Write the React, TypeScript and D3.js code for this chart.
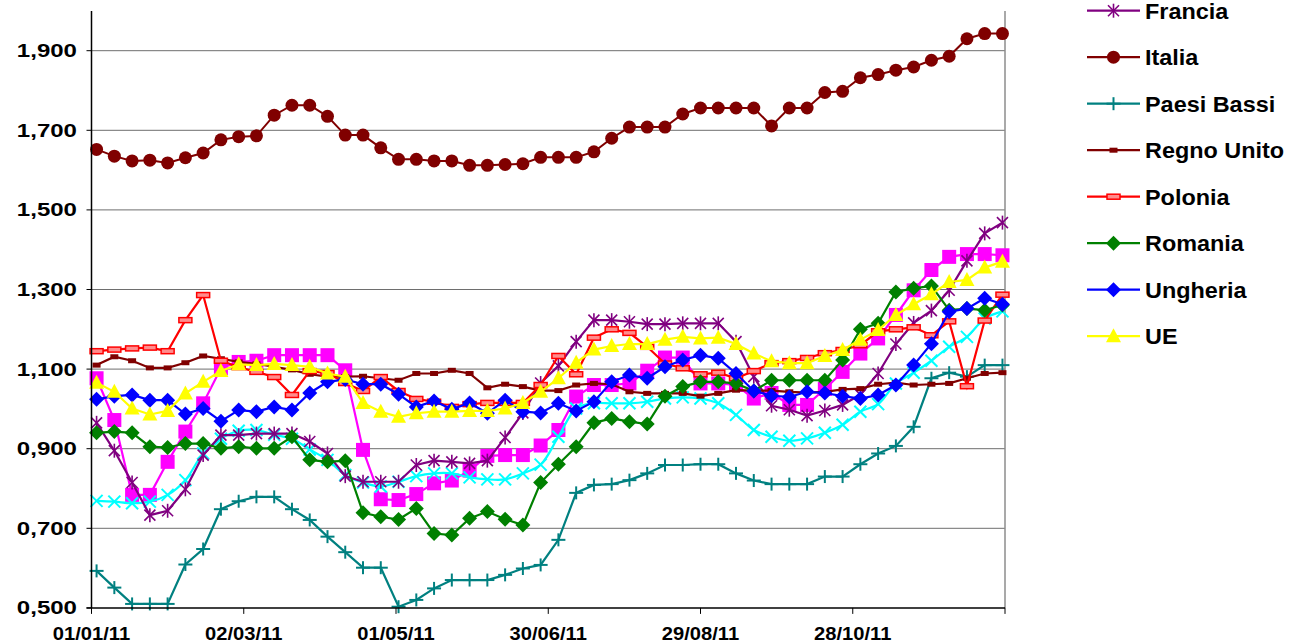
import React from "react";
import * as d3 from "d3";

const W = 1290;
const H = 643;

// weekly observation dates (first Monday of 2011, 52 weeks)
const dates: Date[] = d3.timeDay.range(new Date(2011, 0, 3), new Date(2011, 11, 27), 7);

const xTickDates = ["2011-01-01", "2011-03-02", "2011-05-01", "2011-06-30", "2011-08-29", "2011-10-28", "2011-12-27"];
const xTickLabels = ["01/01/11", "02/03/11", "01/05/11", "30/06/11", "29/08/11", "28/10/11", ""];
const yTicks = [0.5, 0.7, 0.9, 1.1, 1.3, 1.5, 1.7, 1.9];
const yTickLabels = ["0,500", "0,700", "0,900", "1,100", "1,300", "1,500", "1,700", "1,900"];

const francia = [0.965, 0.895, 0.815, 0.733, 0.744, 0.798, 0.884, 0.934, 0.934, 0.938, 0.938, 0.938, 0.918, 0.888, 0.831, 0.817, 0.817, 0.817, 0.859, 0.870, 0.867, 0.863, 0.870, 0.928, 0.990, 1.065, 1.108, 1.169, 1.223, 1.223, 1.219, 1.213, 1.213, 1.215, 1.215, 1.215, 1.169, 1.081, 1.008, 0.998, 0.983, 0.996, 1.010, 1.036, 1.089, 1.163, 1.216, 1.247, 1.298, 1.372, 1.441, 1.468];
const italia = [1.652, 1.635, 1.623, 1.625, 1.618, 1.631, 1.643, 1.676, 1.684, 1.686, 1.738, 1.763, 1.763, 1.735, 1.688, 1.688, 1.656, 1.627, 1.627, 1.623, 1.623, 1.612, 1.612, 1.614, 1.616, 1.632, 1.632, 1.632, 1.646, 1.680, 1.708, 1.708, 1.708, 1.741, 1.756, 1.756, 1.756, 1.756, 1.711, 1.756, 1.756, 1.795, 1.798, 1.832, 1.840, 1.851, 1.859, 1.876, 1.886, 1.930, 1.943, 1.943];
const paesiBassi = [0.593, 0.551, 0.510, 0.510, 0.510, 0.609, 0.648, 0.748, 0.768, 0.779, 0.779, 0.748, 0.721, 0.679, 0.640, 0.601, 0.601, 0.503, 0.520, 0.549, 0.570, 0.570, 0.570, 0.583, 0.599, 0.608, 0.671, 0.789, 0.809, 0.811, 0.821, 0.838, 0.859, 0.859, 0.861, 0.861, 0.838, 0.820, 0.811, 0.811, 0.811, 0.830, 0.830, 0.861, 0.888, 0.907, 0.955, 1.077, 1.091, 1.081, 1.110, 1.110];
const regnoUnito = [1.110, 1.131, 1.121, 1.103, 1.103, 1.116, 1.133, 1.126, 1.118, 1.113, 1.106, 1.098, 1.087, 1.081, 1.081, 1.082, 1.077, 1.072, 1.089, 1.089, 1.097, 1.089, 1.053, 1.062, 1.056, 1.046, 1.046, 1.060, 1.064, 1.062, 1.043, 1.039, 1.039, 1.039, 1.032, 1.039, 1.047, 1.046, 1.046, 1.043, 1.041, 1.043, 1.049, 1.051, 1.062, 1.066, 1.060, 1.062, 1.064, 1.077, 1.089, 1.091];
const polonia = [1.145, 1.149, 1.152, 1.154, 1.145, 1.223, 1.286, 1.121, 1.105, 1.093, 1.080, 1.035, 1.095, 1.090, 1.065, 1.045, 1.080, 1.045, 1.025, 1.018, 1.005, 1.012, 1.015, 1.015, 1.015, 1.060, 1.133, 1.087, 1.179, 1.200, 1.191, 1.156, 1.114, 1.102, 1.087, 1.091, 1.077, 1.095, 1.115, 1.120, 1.128, 1.140, 1.148, 1.160, 1.195, 1.200, 1.205, 1.185, 1.220, 1.057, 1.222, 1.287];
const romania = [0.940, 0.943, 0.940, 0.905, 0.903, 0.913, 0.913, 0.901, 0.905, 0.901, 0.901, 0.930, 0.872, 0.867, 0.870, 0.739, 0.729, 0.722, 0.750, 0.687, 0.683, 0.725, 0.742, 0.723, 0.708, 0.815, 0.861, 0.905, 0.965, 0.976, 0.968, 0.962, 1.032, 1.056, 1.068, 1.068, 1.064, 1.045, 1.072, 1.072, 1.072, 1.072, 1.123, 1.200, 1.215, 1.294, 1.303, 1.309, 1.248, 1.252, 1.248, 1.261];
const ungheria = [1.024, 1.032, 1.035, 1.022, 1.022, 0.987, 1.001, 0.969, 0.997, 0.993, 1.005, 0.997, 1.040, 1.068, 1.074, 1.062, 1.062, 1.037, 1.005, 1.020, 0.999, 1.015, 0.989, 1.022, 0.993, 0.990, 1.014, 0.995, 1.018, 1.068, 1.085, 1.077, 1.106, 1.123, 1.135, 1.127, 1.089, 1.045, 1.033, 1.030, 1.043, 1.040, 1.032, 1.026, 1.035, 1.060, 1.110, 1.164, 1.244, 1.252, 1.278, 1.263];
const ue = [1.066, 1.043, 1.001, 0.986, 0.995, 1.039, 1.068, 1.095, 1.112, 1.110, 1.113, 1.110, 1.106, 1.089, 1.081, 1.015, 0.993, 0.980, 0.989, 0.993, 0.993, 0.995, 0.995, 1.001, 1.015, 1.043, 1.077, 1.116, 1.149, 1.158, 1.163, 1.163, 1.174, 1.181, 1.177, 1.179, 1.163, 1.139, 1.120, 1.115, 1.115, 1.133, 1.148, 1.174, 1.198, 1.236, 1.263, 1.288, 1.319, 1.324, 1.355, 1.370];
const magentaSeries = [1.077, 0.972, 0.784, 0.784, 0.867, 0.943, 1.014, 1.102, 1.118, 1.121, 1.135, 1.135, 1.135, 1.135, 1.097, 0.897, 0.773, 0.771, 0.786, 0.813, 0.820, 0.845, 0.882, 0.884, 0.884, 0.908, 0.947, 1.031, 1.060, 1.060, 1.064, 1.096, 1.129, 1.129, 1.064, 1.064, 1.060, 1.026, 1.040, 1.010, 1.010, 1.050, 1.093, 1.139, 1.177, 1.236, 1.298, 1.349, 1.382, 1.389, 1.389, 1.386];
const cyanSeries = [0.769, 0.767, 0.763, 0.767, 0.784, 0.821, 0.888, 0.925, 0.945, 0.947, 0.935, 0.925, 0.898, 0.872, 0.834, 0.815, 0.805, 0.817, 0.831, 0.838, 0.838, 0.828, 0.823, 0.823, 0.838, 0.860, 0.930, 1.001, 1.014, 1.014, 1.014, 1.018, 1.026, 1.029, 1.026, 1.014, 0.985, 0.947, 0.930, 0.920, 0.926, 0.940, 0.960, 0.993, 1.012, 1.064, 1.091, 1.121, 1.156, 1.181, 1.227, 1.245];

type Marker = "star" | "circle" | "plus" | "dash" | "bar" | "diamond" | "triangle" | "square" | "x";
interface Series { name: string; color: string; marker: Marker; values: number[]; legend: boolean; smooth?: boolean; }

const series: Series[] = [
  { name: "", color: "#FF00FF", marker: "square", values: magentaSeries, legend: false },
  { name: "", color: "#00FFFF", marker: "x", values: cyanSeries, legend: false, smooth: true },
  { name: "Francia", color: "#800080", marker: "star", values: francia, legend: true },
  { name: "Italia", color: "#800000", marker: "circle", values: italia, legend: true },
  { name: "Paesi Bassi", color: "#008080", marker: "plus", values: paesiBassi, legend: true },
  { name: "Regno Unito", color: "#800000", marker: "dash", values: regnoUnito, legend: true },
  { name: "Polonia", color: "#FF0000", marker: "bar", values: polonia, legend: true },
  { name: "Romania", color: "#008000", marker: "diamond", values: romania, legend: true },
  { name: "Ungheria", color: "#0000FF", marker: "diamond", values: ungheria, legend: true },
  { name: "UE", color: "#FFFF00", marker: "triangle", values: ue, legend: true },
];

const legendOrder = ["Francia", "Italia", "Paesi Bassi", "Regno Unito", "Polonia", "Romania", "Ungheria", "UE"];

const PLOT = { left: 91.5, right: 1005, top: 10.9, bottom: 607.9 };
const FONT = "'Liberation Sans', Arial, Helvetica, sans-serif";

const x = d3.scaleTime().domain([new Date(2011, 0, 1), new Date(2011, 11, 27)]).range([PLOT.left, PLOT.right]);
const y = d3.scaleLinear().domain([0.5, 2.0]).range([PLOT.bottom, PLOT.top]);

function MarkerShape({ type, color, cx, cy }: { type: Marker; color: string; cx: number; cy: number }) {
  const t = `translate(${cx},${cy})`;
  switch (type) {
    case "circle":
      return <circle cx={cx} cy={cy} r={6.5} fill={color} />;
    case "square":
      return <rect transform={t} x={-7} y={-7} width={14} height={14} fill={color} />;
    case "diamond":
      return <path transform={t} d="M0,-7.5L7.5,0L0,7.5L-7.5,0Z" fill={color} />;
    case "triangle":
      return <path transform={t} d="M0,-8L7.5,6L-7.5,6Z" fill={color} />;
    case "star":
      return (
        <g transform={t} stroke={color} strokeWidth={1.6}>
          <line x1={-5.5} y1={-5.5} x2={5.5} y2={5.5} />
          <line x1={-5.5} y1={5.5} x2={5.5} y2={-5.5} />
          <line x1={0} y1={-7} x2={0} y2={7} />
        </g>
      );
    case "plus":
      return (
        <g transform={t} stroke={color} strokeWidth={2}>
          <line x1={-7} y1={0} x2={7} y2={0} />
          <line x1={0} y1={-6.5} x2={0} y2={6.5} />
        </g>
      );
    case "x":
      return (
        <g transform={t} stroke={color} strokeWidth={2}>
          <line x1={-6} y1={-6} x2={6} y2={6} />
          <line x1={-6} y1={6} x2={6} y2={-6} />
        </g>
      );
    case "dash":
      return <rect transform={t} x={-4} y={-2.5} width={8} height={5} fill={color} />;
    case "bar":
      return <rect transform={t} x={-6.5} y={-2.5} width={13} height={5} fill="#ff8c8c" stroke={color} strokeWidth={1.5} />;
  }
  return null;
}

function StretchText({ x0, y0, sx, anchor, size, children }: { x0: number; y0: number; sx: number; anchor: string; size: number; children: React.ReactNode }) {
  return (
    <text transform={`translate(${x0},${y0}) scale(${sx},1)`} textAnchor={anchor} fontSize={size} fontWeight="bold" fill="#000">
      {children}
    </text>
  );
}

export default function App() {
  const lineGen = (smooth: boolean) =>
    d3
      .line<number>()
      .x((_, i) => x(dates[i]))
      .y((v) => y(v))
      .curve(smooth ? d3.curveCatmullRom.alpha(0.5) : d3.curveLinear);

  const legendSeries = legendOrder.map((n) => series.find((s) => s.name === n)!);

  return (
    <div style={{ position: "absolute", left: 0, top: 0, width: W, height: H, background: "#fff" }}>
      <svg width={W} height={H} style={{ display: "block" }} fontFamily={FONT}>
        <rect x={0} y={0} width={W} height={H} fill="#fff" />
        {yTicks.filter((t) => t > 0.5).map((t) => (
          <line key={t} x1={PLOT.left} x2={PLOT.right} y1={y(t)} y2={y(t)} stroke="#6e6e6e" strokeWidth={1} />
        ))}
        <line x1={PLOT.right} x2={PLOT.right} y1={PLOT.top} y2={PLOT.bottom} stroke="#8c8c8c" strokeWidth={1.5} />
        {series.map((s, si) => (
          <g key={si}>
            <path d={lineGen(!!s.smooth)(s.values) || ""} fill="none" stroke={s.color} strokeWidth={s.name === "Italia" ? 2 : 2.2} />
            {s.values.map((v, i) => (
              <MarkerShape key={i} type={s.marker} color={s.color} cx={x(dates[i])} cy={y(v)} />
            ))}
          </g>
        ))}
        <line x1={PLOT.left} x2={PLOT.left} y1={PLOT.top} y2={PLOT.bottom} stroke="#000" strokeWidth={1.5} />
        <line x1={PLOT.left - 5} x2={PLOT.right} y1={PLOT.bottom} y2={PLOT.bottom} stroke="#000" strokeWidth={1.5} />
        {yTicks.map((t, i) => (
          <g key={t}>
            <line x1={PLOT.left - 5} x2={PLOT.left} y1={y(t)} y2={y(t)} stroke="#000" strokeWidth={1} />
            <StretchText x0={77} y0={y(t) + 6.5} sx={1.3} anchor="end" size={18.5}>
              {yTickLabels[i]}
            </StretchText>
          </g>
        ))}
        {xTickDates.map((d, i) => {
          const xx = x(new Date(d + "T00:00:00"));
          return (
            <g key={d}>
              <line x1={xx} x2={xx} y1={PLOT.bottom} y2={PLOT.bottom + 6} stroke="#000" strokeWidth={1} />
              <StretchText x0={xx} y0={640} sx={1.12} anchor="middle" size={18}>
                {xTickLabels[i]}
              </StretchText>
            </g>
          );
        })}
        {legendSeries.map((s, i) => {
          const ly = 10.7 + i * 46.5;
          return (
            <g key={s.name}>
              <line x1={1087} x2={1140} y1={ly} y2={ly} stroke={s.color} strokeWidth={2.2} />
              <MarkerShape type={s.marker} color={s.color} cx={1113.5} cy={ly} />
              <StretchText x0={1145} y0={ly + 7.8} sx={1.09} anchor="start" size={21.5}>
                {s.name}
              </StretchText>
            </g>
          );
        })}
      </svg>
    </div>
  );
}
